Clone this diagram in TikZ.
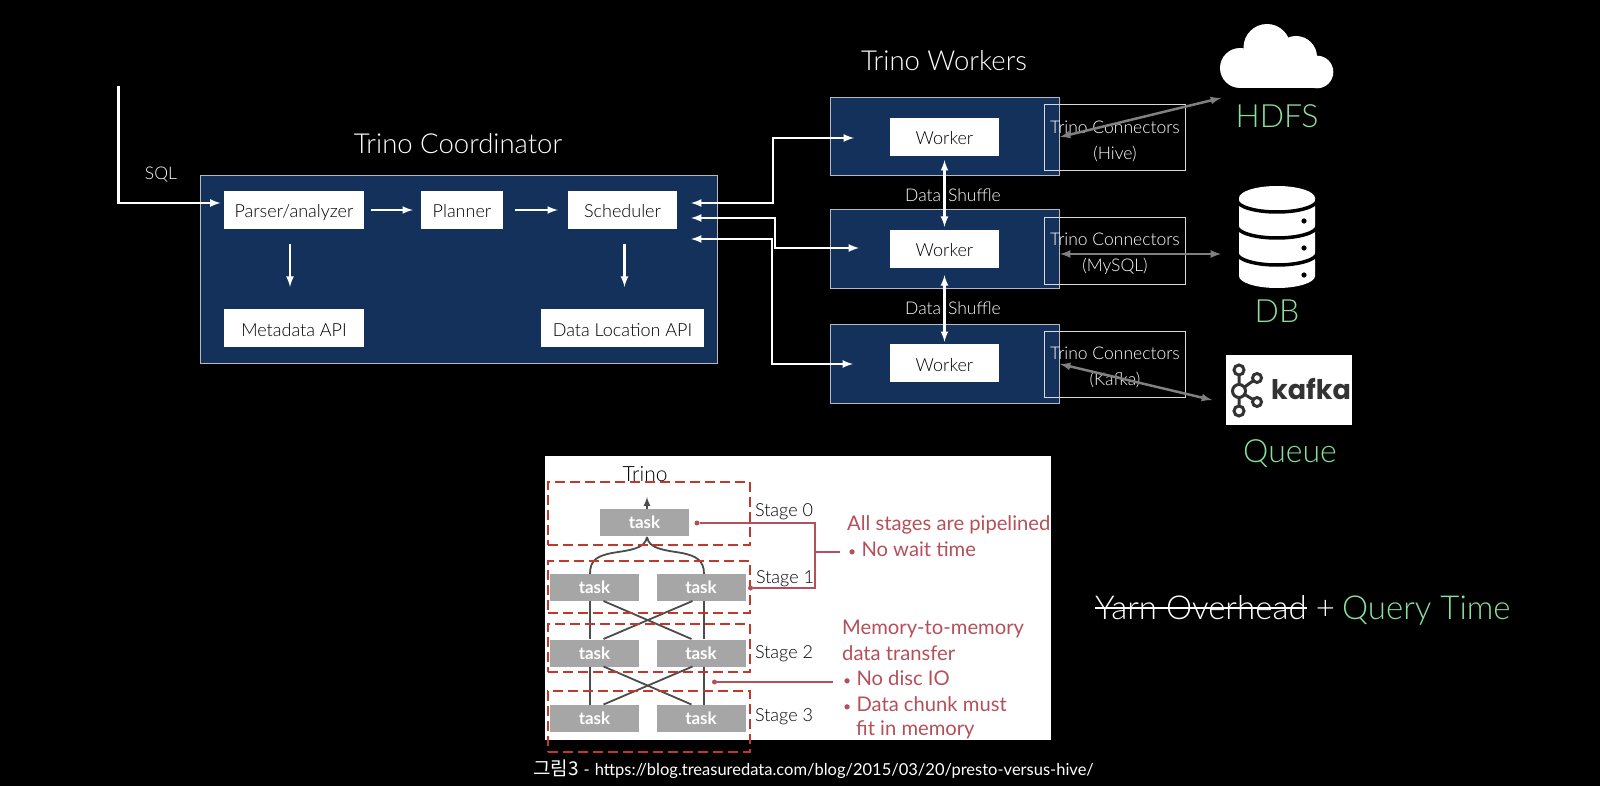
\documentclass[tikz,border=0pt]{standalone}
\usepackage{fontspec}
\usepackage{tikz}
\usetikzlibrary{arrows}
\setmainfont{Lato Light}
\newfontfamily\plainfont{Lato}
\newfontfamily\logofont{Poppins}
\newfontfamily\krfont{Noto Sans CJK KR}
\definecolor{navy}{HTML}{14315C}
\definecolor{edgegray}{HTML}{B4BAC2}
\definecolor{leaf}{HTML}{88E09A}
\definecolor{taskgray}{HTML}{A6A6A6}
\definecolor{stagered}{HTML}{C0392B}
\definecolor{notered}{HTML}{B4505A}
\newcommand{\notebul}{{\fontsize{14}{14}\selectfont •}}
\tikzset{
  panel/.style={draw=edgegray, fill=navy, line width=1pt, inner sep=0pt},
  whitebox/.style={fill=white, text=black, inner sep=0pt, minimum height=38pt, text height=16pt, text depth=0pt, font=\fontsize{18}{20}\selectfont},
  connbox/.style={draw=white!85!black, line width=1pt, inner sep=0pt, minimum width=141pt, minimum height=66pt},
  label/.style={text=white, inner sep=0pt, font=\fontsize{17.5}{20}\selectfont},
  title/.style={text=white, inner sep=0pt, font=\fontsize{27.5}{30}\selectfont},
  store/.style={text=leaf, inner sep=0pt, font=\fontsize{32}{34}\selectfont},
  wire/.style={draw=white, line width=2.5pt, <->, >=latex},
  oneway/.style={draw=white, line width=2.5pt, ->, >=latex},
  grayway/.style={draw=gray, line width=2.5pt, <->, >=latex},
  taskbox/.style={fill=taskgray, text=white, inner sep=0pt, minimum height=27pt, minimum width=89pt, font=\plainfont\bfseries\fontsize{17}{20}\selectfont},
  stagebox/.style={draw=stagered, line width=1.5pt, dash pattern=on 10pt off 5pt, inner sep=0pt, minimum width=202pt},
  stagetext/.style={text=black, inner sep=0pt, font=\fontsize{18}{20}\selectfont},
  notetext/.style={text=notered, inner sep=0pt, anchor=west, font=\plainfont\fontsize{20.2}{22}\selectfont},
  tasklink/.style={draw=black!70, line width=1.8pt},
  noteline/.style={draw=notered, line width=1.4pt},
  notedot/.style={fill=notered, circle, inner sep=0pt, minimum size=5pt},
  bigtext/.style={inner sep=0pt, anchor=base west, font=\fontsize{33}{36}\selectfont},
  logoring/.style={draw=black!80, line width=3pt, fill=white},
  dbband/.style={draw=black, line width=3.5pt},
}
\begin{document}
\begin{tikzpicture}[x=1pt, y=-1pt]
\useasboundingbox (0,0) rectangle (1600,786);
\fill[black] (0,0) rectangle (1600,786);
% coordinator
\node[panel, minimum width=517pt, minimum height=188pt] (coord) at (458.5,269.5) {};
\node[title] (coordtitle) at (458,144) {Trino Coordinator};
\node[label] (sql) at (161,174.5) {SQL};
\node[whitebox, minimum width=140pt] (parser) at (294,210) {Parser/analyzer};
\node[whitebox, minimum width=82pt] (planner) at (462,210) {Planner};
\node[whitebox, minimum width=109pt] (scheduler) at (622.5,210) {Scheduler};
\node[whitebox, minimum width=140pt] (metadata) at (294,328) {Metadata API};
\node[whitebox, minimum width=163pt] (location) at (622.5,328) {Data Location API};
\coordinate (sqlstart) at (118.5,86);
\coordinate (sqlend) at (220.5,203);
\draw[oneway] (sqlstart) |- (sqlend);
\draw[oneway, shorten <=7pt, shorten >=8pt] (parser) -- (planner);
\draw[oneway, shorten <=12pt, shorten >=10pt] (planner) -- (scheduler);
\draw[oneway, shorten <=15pt, shorten >=22pt] (parser.south -| 290,0) -- (metadata.north -| 290,0);
\draw[oneway, shorten <=15pt, shorten >=22pt] (scheduler.south -| 624.5,0) -- (location.north -| 624.5,0);
% workers
\node[panel, minimum width=229pt, minimum height=78pt] (workerbg1) at (944.5,137) {};
\node[panel, minimum width=229pt, minimum height=78pt] (workerbg2) at (944.5,249) {};
\node[panel, minimum width=229pt, minimum height=79pt] (workerbg3) at (944.5,363.5) {};
\node[title] (workertitle) at (944,61) {Trino Workers};
\node[whitebox, minimum width=109pt] (worker1) at (944.5,137) {Worker};
\node[whitebox, minimum width=109pt] (worker2) at (944.5,249) {Worker};
\node[whitebox, minimum width=109pt] (worker3) at (944.5,363) {Worker};
\node[connbox] (conn1) at (1115,137.5) {};
\node[connbox] (conn2) at (1115,251) {};
\node[connbox] (conn3) at (1115,364) {};
\node[label] (conn1a) at (1115,127) {Trino Connectors};
\node[label] (conn1b) at (1115,154) {(Hive)};
\node[label] (conn2a) at (1115,239.5) {Trino Connectors};
\node[label] (conn2b) at (1115,266.5) {(MySQL)};
\node[label] (conn3a) at (1115,353) {Trino Connectors};
\node[label] (conn3b) at (1115,379.5) {(Kafka)};
\node[label] (shuffle1) at (953,195) {Data\hspace{7pt}Shuffle};
\node[label] (shuffle2) at (953,308) {Data\hspace{7pt}Shuffle};
\draw[wire, shorten <=4pt, shorten >=3pt] (worker1.south) -- (worker2.north);
\draw[wire, shorten <=7pt, shorten >=2pt] (worker2.south) -- (worker3.north);
% scheduler to workers
\coordinate (sched1) at (691,203);
\coordinate (sched2) at (691,218);
\coordinate (sched3) at (691,239);
\coordinate (in1) at (854,138);
\coordinate (in2) at (859,248);
\coordinate (in3) at (853,364);
\draw[wire] (sched1) -- (773,203) -- (773,138) -- (in1);
\draw[wire] (sched2) -- (775,218) -- (775,248) -- (in2);
\draw[wire] (sched3) -- (772,239) -- (772,364) -- (in3);
% cloud
\fill[white] (1240,68) circle (20);
\fill[white] (1317,72) circle (16.3);
\fill[white] (1240,60) rectangle (1317,88.3);
\fill[white] (1267,47.5) circle (23.5);
\fill[white] (1296,57) circle (21);
\coordinate (hdfsicon) at (1221,98);
\node[store] (hdfs) at (1277,116) {HDFS};
% database
\fill[white] (1239,198) arc[start angle=180, end angle=360, x radius=38, y radius=12] -- (1315,276) arc[start angle=0, end angle=180, x radius=38, y radius=12] -- cycle;
\draw[dbband] (1237,200) arc[start angle=180, end angle=0, x radius=40, y radius=12];
\draw[dbband] (1237,226) arc[start angle=180, end angle=0, x radius=40, y radius=12];
\draw[dbband] (1237,253) arc[start angle=180, end angle=0, x radius=40, y radius=12];
\fill[black] (1304,221) circle (2.6);
\fill[black] (1304,248) circle (2.6);
\fill[black] (1304,275) circle (2.6);
\coordinate (dbicon) at (1221,254);
\node[store] (db) at (1277,311) {DB};
% kafka
\node[fill=white, inner sep=0pt, minimum width=126pt, minimum height=70pt] (kafkabg) at (1289,390) {};
\node[text=black!80, inner sep=0pt, font=\logofont\bfseries\fontsize{27}{30}\selectfont] (kafka) at (1311,389) {kafka};
\draw[black!80, line width=3pt] (1239,370) -- (1239,411) (1239,391) -- (1257,378) (1239,391) -- (1257,402);
\draw[logoring] (1239,370) circle (5);
\draw[logoring] (1239,391) circle (6.5);
\draw[logoring] (1239,411) circle (5);
\draw[logoring] (1257,378) circle (4.5);
\draw[logoring] (1257,402) circle (4.5);
\coordinate (kafkaicon) at (1212,400);
\node[store] (queue) at (1290,454) {Queue};
% connectors to stores
\coordinate (out1) at (1060,137);
\coordinate (out2) at (1060,254);
\coordinate (out3) at (1060,364);
\draw[grayway] (out1) -- (hdfsicon);
\draw[grayway] (out2) -- (dbicon);
\draw[grayway] (out3) -- (kafkaicon);
% reference figure
\fill[white] (545,456) rectangle (1051,740);
\node[text=black, inner sep=0pt, font=\fontsize{21}{24}\selectfont] (trino) at (645,474) {Trino};
\node[taskbox] (task0) at (644.5,522.5) {task};
\node[taskbox] (task1a) at (594.5,587.5) {task};
\node[taskbox] (task1b) at (701,587.5) {task};
\node[taskbox] (task2a) at (594.5,653) {task};
\node[taskbox] (task2b) at (701,653) {task};
\node[taskbox] (task3a) at (594.5,718.5) {task};
\node[taskbox] (task3b) at (701,718.5) {task};
\coordinate (tasktop) at (647,497);
\draw[tasklink, line width=2pt, ->, >=latex] (task0.north -| tasktop) -- (tasktop);
\draw[tasklink] (590,574) .. controls (590,560) and (597,556) .. (612,553) .. controls (630,550) and (645,549) .. (647,537);
\draw[tasklink] (704,574) .. controls (704,560) and (696,556) .. (682,553) .. controls (664,550) and (649,549) .. (647,537);
\draw[tasklink] (590,601) -- (590,639);
\draw[tasklink] (704,601) -- (704,639);
\draw[tasklink] (590,666.5) -- (590,704.5);
\draw[tasklink] (704,666.5) -- (704,704.5);
\draw[tasklink] (603.5,601) -- (691.5,639);
\draw[tasklink] (692.5,601) -- (603.5,639);
\draw[tasklink] (603.5,666.5) -- (691.5,704.5);
\draw[tasklink] (692.5,666.5) -- (603.5,704.5);
\node[stagebox, minimum height=63pt] (stage0) at (649,513.5) {};
\node[stagebox, minimum height=52pt] (stage1) at (649,587) {};
\node[stagebox, minimum height=48pt] (stage2) at (649,648) {};
\node[stagebox, minimum height=61pt] (stage3) at (649,721.5) {};
\node[stagetext] (stagename0) at (784,512) {Stage 0};
\node[stagetext] (stagename1) at (785,579) {Stage 1};
\node[stagetext] (stagename2) at (784,654) {Stage 2};
\node[stagetext] (stagename3) at (784,717) {Stage 3};
\node[notedot] (dot0) at (697,523) {};
\node[notedot] (dot1) at (750.5,588) {};
\node[notedot] (dot2) at (714.5,682) {};
\coordinate (notejoin) at (815,552);
\coordinate (noteend) at (839.5,552);
\coordinate (memend) at (832.5,682);
\draw[noteline] (dot0) -| (notejoin) |- (dot1);
\draw[noteline] (notejoin) -- (noteend);
\draw[noteline] (dot2) -- (memend);
\node[notetext] (note1) at (847,524.5) {All stages are pipelined};
\node[notetext] (note2) at (848,549.5) {\notebul\ No wait time};
\node[notetext] (note3) at (842,628.5) {Memory-to-memory};
\node[notetext] (note4) at (842,653.5) {data transfer};
\node[notetext] (note5) at (843,678.5) {\notebul\ No disc IO};
\node[notetext] (note6) at (843,704) {\notebul\ Data chunk must};
\node[notetext] (note7) at (856,729.5) {fit in memory};
\node[text=white, inner sep=0pt, font=\plainfont\fontsize{16.5}{18}\selectfont] (caption) at (813.5,769) {{\krfont\fontsize{19}{20}\selectfont 그림3}\hspace{5pt}-\hspace{5pt}https://blog.treasuredata.com/blog/2015/03/20/presto-versus-hive/};
% right text
\node[bigtext, text=white] (yarn) at (1095,619) {Yarn Overhead};
\node[bigtext, text=white] (plus) at (yarn.base east) {\kern9pt+\kern6.5pt};
\node[bigtext, text=leaf] (query) at (plus.base east) {Query Time};
\draw[white, line width=1.5pt] (yarn.west |- 0,608) -- (yarn.east |- 0,608);
\end{tikzpicture}
\end{document}
